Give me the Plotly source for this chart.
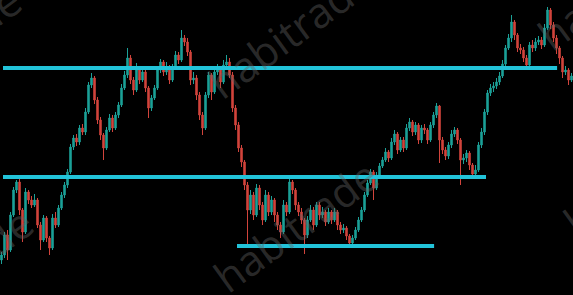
import plotly.graph_objects as go

# Close prices per candle (arbitrary price units)
closes = [45, 65, 50, 85, 110, 118, 90, 68, 108, 100, 95, 100, 75, 60, 82, 62, 52, 82, 75, 92,
          105, 115, 128, 153, 162, 158, 172, 168, 188, 215, 222, 200, 180, 165, 152, 170, 182, 172, 185, 195,
          212, 225, 242, 220, 210, 230, 220, 228, 212, 192, 202, 212, 230, 238, 228, 232, 220, 232, 245, 240,
          262, 258, 248, 220, 222, 205, 185, 172, 205, 225, 208, 228, 230, 218, 235, 238, 225, 192, 175, 152,
          138, 115, 90, 105, 85, 112, 95, 80, 105, 88, 100, 85, 75, 68, 95, 88, 118, 110, 95, 88,
          80, 65, 80, 90, 75, 95, 85, 88, 78, 88, 80, 88, 75, 70, 72, 64, 57, 62, 70, 80,
          90, 105, 117, 128, 112, 125, 134, 140, 148, 142, 158, 166, 150, 160, 152, 172, 178, 168, 175, 160,
          172, 170, 160, 175, 185, 194, 160, 150, 144, 155, 166, 170, 160, 140, 142, 147, 135, 126, 130, 155,
          168, 188, 207, 212, 214, 218, 224, 236, 252, 262, 278, 265, 252, 250, 242, 235, 255, 252, 258, 260,
          255, 272, 290, 275, 262, 252, 242, 228, 230, 220, 224]
highs = [48, 68, 70, 88, 113, 120, 121, 92, 112, 110, 104, 106, 102, 78, 85, 84, 64, 86, 88, 95,
         108, 118, 131, 156, 165, 166, 175, 176, 192, 218, 227, 224, 203, 183, 167, 173, 186, 185, 188, 198,
         216, 229, 252, 245, 223, 237, 233, 233, 230, 214, 205, 215, 234, 241, 240, 238, 235, 236, 249, 248,
         270, 265, 262, 250, 228, 225, 208, 188, 208, 228, 227, 232, 236, 233, 240, 245, 242, 228, 195, 178,
         155, 140, 118, 110, 108, 116, 115, 98, 110, 108, 104, 102, 88, 78, 100, 98, 122, 120, 112, 98,
         92, 82, 84, 95, 93, 98, 98, 93, 90, 92, 90, 92, 90, 78, 76, 74, 66, 65, 73, 83,
         93, 108, 120, 131, 130, 128, 137, 143, 152, 150, 162, 170, 168, 163, 163, 176, 182, 180, 178, 177,
         175, 176, 172, 178, 188, 197, 195, 163, 153, 158, 170, 173, 172, 162, 146, 150, 149, 137, 135, 158,
         172, 191, 210, 216, 218, 222, 228, 240, 255, 266, 285, 280, 267, 256, 253, 245, 258, 260, 262, 264,
         263, 276, 293, 292, 278, 265, 254, 244, 234, 232, 227]
lows = [36, 42, 40, 48, 83, 107, 85, 58, 66, 96, 92, 93, 72, 50, 58, 58, 45, 50, 72, 73,
        90, 102, 112, 126, 150, 154, 155, 165, 165, 186, 212, 196, 176, 160, 140, 150, 168, 168, 170, 182,
        193, 210, 222, 216, 205, 208, 216, 218, 208, 182, 189, 200, 210, 227, 224, 225, 216, 218, 230, 236,
        238, 254, 244, 215, 216, 200, 180, 165, 170, 202, 200, 206, 225, 212, 216, 232, 222, 188, 170, 148,
        133, 110, 53, 86, 80, 83, 90, 75, 78, 84, 85, 78, 70, 62, 66, 84, 86, 106, 90, 84,
        76, 46, 62, 78, 70, 73, 80, 82, 74, 76, 76, 78, 70, 66, 67, 60, 52, 54, 60, 68,
        78, 88, 103, 115, 100, 110, 122, 132, 138, 138, 140, 155, 146, 148, 148, 150, 169, 164, 165, 156,
        157, 166, 156, 158, 172, 182, 137, 146, 140, 141, 152, 163, 156, 115, 136, 138, 130, 122, 123, 128,
        152, 165, 185, 204, 208, 211, 215, 222, 234, 250, 258, 260, 248, 246, 238, 230, 233, 248, 249, 255,
        251, 253, 270, 271, 258, 246, 236, 222, 225, 215, 218]
first_open = 40
opens = [first_open] + closes[:-1]
idx = list(range(len(closes)))

# Horizontal levels: price, start candle, end candle
level_prices = [232, 123, 54]
level_starts = [0.5, 0.5, 78.5]
level_ends = [185.2, 161.5, 144.2]

watermark = "habitrade"

fig = go.Figure(go.Candlestick(
    x=idx, open=opens, high=highs, low=lows, close=closes,
    increasing=dict(line=dict(color="#1ca198", width=1), fillcolor="#1ca198"),
    decreasing=dict(line=dict(color="#d2443c", width=1), fillcolor="#d2443c"),
    whiskerwidth=0, hoverinfo="skip",
))

for p, s, e in zip(level_prices, level_starts, level_ends):
    fig.add_shape(type="line", x0=s, x1=e, y0=p, y1=p, xref="x", yref="y",
                  line=dict(color="#22c3d9", width=4), layer="above")

wm_pos = [(290, 32), (295, 225), (-62, 50), (-50, 272), (620, -16), (645, 170)]
for (px, py) in wm_pos:
    fig.add_annotation(text=watermark, x=px / 573, y=1 - py / 295, xref="paper", yref="paper",
                       xanchor="center", yanchor="middle",
                       showarrow=False, textangle=-36,
                       font=dict(family="Open Sans", size=42, color="rgba(100,100,100,0.42)"))

fig.update_layout(
    width=573, height=295,
    margin=dict(l=0, r=0, t=0, b=0),
    paper_bgcolor="#000000", plot_bgcolor="#000000",
    showlegend=False,
    xaxis=dict(range=[-0.5, len(closes) - 0.5], visible=False, rangeslider=dict(visible=False),
               fixedrange=True),
    yaxis=dict(range=[5, 300], visible=False, fixedrange=True),
)

fig.write_html("out.html", config={"displayModeBar": False},
               post_script="document.body.style.margin='0';document.body.style.padding='0';"
                           "document.body.style.background='#000';")
